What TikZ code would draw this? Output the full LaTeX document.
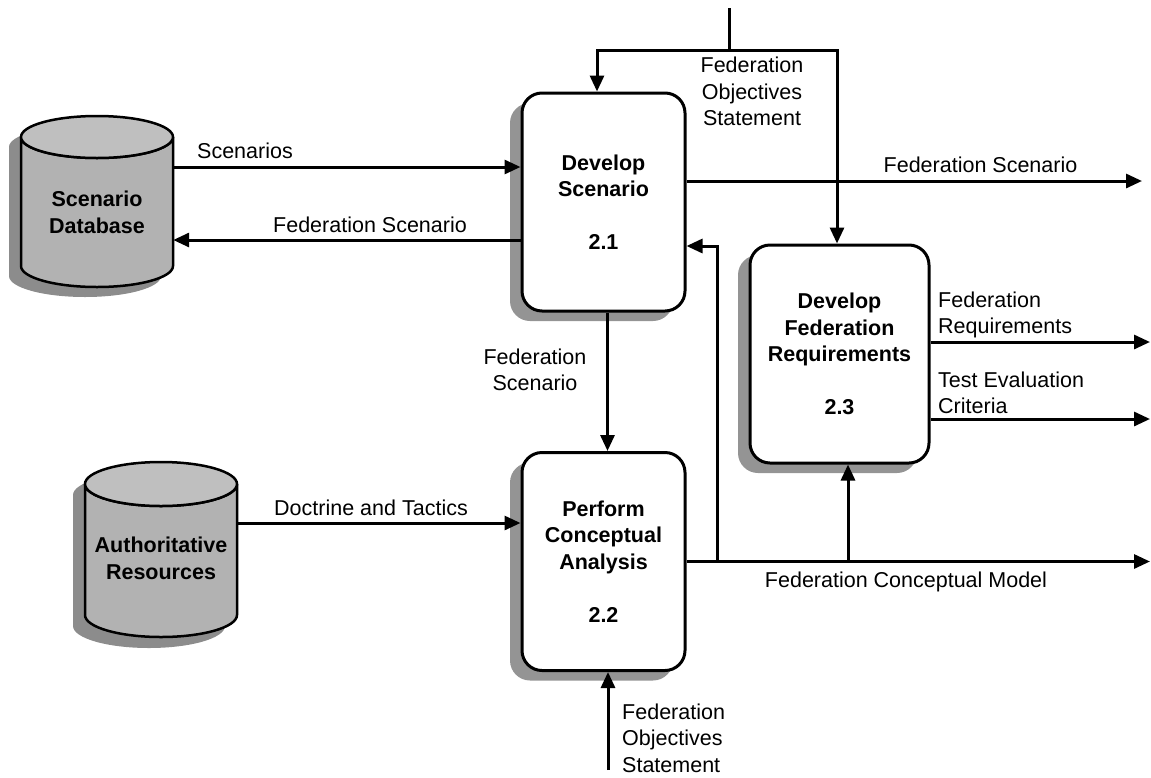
\documentclass[tikz,border=0pt]{standalone}
\usepackage{fontspec}
\setmainfont{Liberation Sans}
\usetikzlibrary{arrows.meta,shadows}

\newcommand{\figfont}{\fontsize{21.5}{26.5}\selectfont}

\begin{document}
\begin{tikzpicture}[x=1pt, y=-1pt,
    proc/.style={rectangle, rounded corners=20pt, draw, line width=3pt, fill=white,
        minimum width=163pt, minimum height=218pt, align=center, font=\figfont\bfseries,
        drop shadow={shadow xshift=-12pt, shadow yshift=-10pt, fill=black!42, opacity=1}},
    store/.style={minimum width=152pt, align=center, inner sep=0pt, font=\figfont\bfseries},
    lbl/.style={align=center, inner sep=0pt, font=\figfont},
    flow/.style={line width=3pt, -{Triangle[length=16pt,width=14pt]}}]
    \useasboundingbox (0,0) rectangle (1151,777);

    % data stores
    \fill[black!45, xshift=-12pt, yshift=-10pt] (21,137) -- (21,266) arc[start angle=180, end angle=0, x radius=76, y radius=21]
        -- (173,137) arc[start angle=0, end angle=-180, x radius=76, y radius=21] -- cycle;
    \draw[line width=2.5pt, fill=black!30] (21,137) -- (21,266) arc[start angle=180, end angle=0, x radius=76, y radius=21]
        -- (173,137) arc[start angle=0, end angle=180, x radius=76, y radius=21] -- cycle;
    \draw[line width=2.5pt, fill=black!25] (97,137) ellipse[x radius=76, y radius=21];
    \node[store] (D1) at (97,212.5) {Scenario\\Database};

    \fill[black!45, xshift=-12pt, yshift=-11pt] (85,484) -- (85,615) arc[start angle=180, end angle=0, x radius=76, y radius=22]
        -- (237,484) arc[start angle=0, end angle=-180, x radius=76, y radius=22] -- cycle;
    \draw[line width=2.5pt, fill=black!30] (85,484) -- (85,615) arc[start angle=180, end angle=0, x radius=76, y radius=22]
        -- (237,484) arc[start angle=0, end angle=180, x radius=76, y radius=22] -- cycle;
    \draw[line width=2.5pt, fill=black!25] (161,484) ellipse[x radius=76, y radius=22];
    \node[store] (D2) at (161,558.5) {Authoritative\\Resources};

    % processes
    \node[proc] (P1) at (603.5,202) {Develop\\Scenario\\[26.5pt]2.1};
    \node[proc] (P2) at (603.5,561.5) {Perform\\Conceptual\\Analysis\\[26.5pt]2.2};
    \node[proc, minimum width=179pt] (P3) at (839.5,354) {Develop\\Federation\\Requirements\\[26.5pt]2.3};

    % free ends
    \coordinate (I1) at (729,8);
    \coordinate (I2) at (608,770);
    \coordinate (J1) at (717,562);
    \coordinate (J2) at (848,562);
    \coordinate (O1) at (1142,181);
    \coordinate (O2) at (1150,562);
    \coordinate (O3) at (1150,342);
    \coordinate (O4) at (1150,419);

    % flows
    \draw[flow] (I1) -- ++(0,42) -| ([xshift=-6.5pt]P1.north);
    \draw[flow] (I1) -- ++(0,42) -| ([xshift=-2.5pt]P3.north);
    \draw[flow] ([yshift=45.5pt]D1.east) -- ([yshift=35pt]P1.west);
    \draw[flow] ([yshift=-38pt]P1.west) -- ([yshift=-27.5pt]D1.east);
    \draw[flow] ([yshift=21pt]P1.east) -- (O1);
    \draw[flow] ([xshift=4pt]P1.south) -- ([xshift=4pt]P2.north);
    \draw[flow] ([yshift=35.5pt]D2.east) -- ([yshift=38.5pt]P2.west);
    \draw[flow] (P2.east) -- (P2.east -| O2);
    \draw[flow] (J1) |- ([yshift=-44pt]P1.east);
    \draw[flow] (J2) -- (J2 |- P3.south);
    \draw[flow] ([yshift=12pt]P3.east) -- (O3);
    \draw[flow] ([yshift=-65pt]P3.east) -- (O4);
    \draw[flow] (I2) -- (I2 |- P2.south);

    % labels
    \node[lbl, anchor=north] (L1) at (752,57) {Federation\\Objectives\\Statement};
    \node[lbl, anchor=base west] (L2) at (197,158) {Scenarios};
    \node[lbl, anchor=base] (L3) at (370,232) {Federation Scenario};
    \node[lbl, anchor=base] (L4) at (980.5,172) {Federation Scenario};
    \node[lbl, anchor=north] (L5) at (535,348.5) {Federation\\Scenario};
    \node[lbl, anchor=base] (L6) at (371,515) {Doctrine and Tactics};
    \node[lbl, anchor=base] (L7) at (906,587) {Federation Conceptual Model};
    \node[lbl, align=left, anchor=north west] (L8) at (938,291.5) {Federation\\Requirements};
    \node[lbl, align=left, anchor=north west] (L9) at (938,371.5) {Test Evaluation\\Criteria};
    \node[lbl, align=left, anchor=north west] (L10) at (622,703.5) {Federation\\Objectives\\Statement};
\end{tikzpicture}
\end{document}
